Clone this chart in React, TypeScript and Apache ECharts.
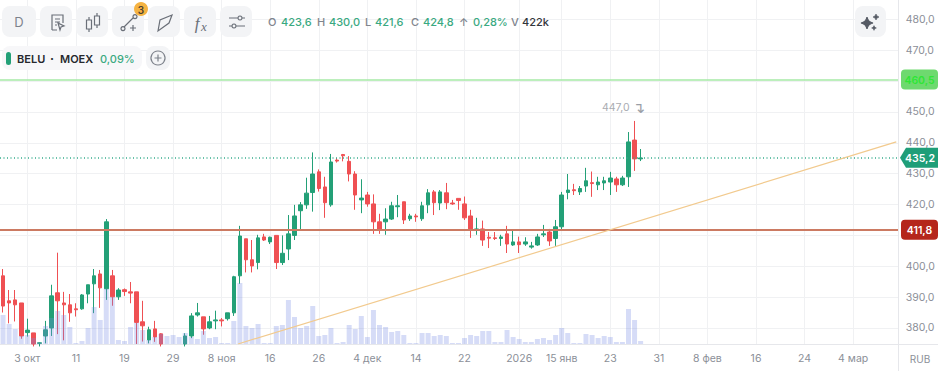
import React, { useEffect, useRef } from "react";
import * as echarts from "echarts";

const opens = [396.9,388.8,389.1,388.1,378.5,378.4,375,377.4,380,391.4,388.1,387.5,386.2,386.2,391,394.3,397.5,392.7,396.9,390.1,392.4,391.7,391.7,382,376.1,379.7,378.1,374,373.5,373.5,374.8,377.4,384.2,383.6,380,382.3,382.6,383,384.9,396.9,408.9,402.1,401.2,409.5,407.9,410,401.2,405.6,410,418,419.9,423.9,430.6,425.7,419.9,434.4,436.2,434,429.9,421.5,423.1,420.2,414.4,414.4,415.3,419.3,420.9,415.4,416.3,415.4,419.9,424.1,420.5,423.8,420.5,422,420.2,416.3,411.8,412.1,409.4,409.2,409,410.5,406.9,407.9,407.2,406.2,406.9,410.2,411.1,409,412.8,423.9,424.8,424.1,426,427.1,426.4,427,427.3,428.3,426.4,429,440.9,434.8];
const closes = [387.1,388.1,387.5,377.4,379.3,374.8,375.2,379.4,390.4,388.8,387.5,384.9,385.9,390.7,394,396.9,393,414.4,390.1,392.3,391.8,391.3,381.8,380.7,379.4,377.1,374.8,373.5,373.8,373,377.4,383.9,384.9,379.7,382,382.6,382.3,384.9,396.6,409.8,402.1,400.1,409.2,408.5,409.4,401.2,404.2,410.5,416.3,419.9,423.7,429.9,425.2,420.6,433.8,434.1,435.8,429.9,423.1,422.1,420.2,414.4,411.8,415.3,419.6,419.6,415,416.3,416,419.6,423.8,420.6,424.1,420.6,420.2,421.3,415.7,412.1,412.1,408.5,409.1,409,409.5,407.2,407.9,407,407.9,406.6,409.5,410.5,408.2,412.8,423.1,424.7,424.5,425.2,427.7,426.8,427.3,427.7,428.6,426.4,428.6,440.3,434.8,435.1];
const lows = [385,381.5,382.1,376.5,377.2,374,374,375,377.4,378,376,382,383.7,385.9,388,384.8,386.5,389.1,387.2,389.1,390.4,388,374.8,375.6,375,375.5,374,373,373,372.5,374,376.7,383.7,377.8,379.6,379.6,380.5,382.4,383.9,394.3,398,398,399,408.2,407.2,399.1,400.4,402,408.5,412,418.6,417.7,424.2,415.7,419.3,433.6,434,427.5,418.3,417.2,419.3,410.5,410.5,410.2,415,415.9,413.7,414.7,414.4,414.7,417.2,416.6,418.2,418.5,419.9,418.3,415,409.2,410.2,406.6,405.9,408.5,406.6,404.3,406.6,404.3,406.6,405.7,406.6,409.5,406.6,406.6,411.8,421.7,423.1,423.1,424.1,422.5,424.7,424.7,423.1,424.1,426,425.7,430.9,434.1];
const highs = [399.1,392.3,392.3,388.1,383,378.4,375.3,382.3,394,404.4,391.7,391,388,391,394,399.1,398.8,415.3,398.8,392.9,392.8,394.9,391.7,388.8,380.4,382.3,378.3,374.5,374.5,374.5,378.3,384.8,388.1,383.6,383.9,385.6,383.2,384.9,396.9,413.1,408.9,408.5,410.2,410.5,409.6,410,410,416.6,419.9,420.8,428.7,436.9,431.4,429,436.4,435.1,436.4,435.7,430.8,428.2,424.1,423.3,417,418.8,420.9,423.1,420.9,417,417,420.9,425,424.7,424.7,427,421.5,422,422.6,418.3,415.7,414.8,411.1,411.1,410.2,413.1,411.8,409.6,409.4,407.9,410.5,413.4,412.1,415,424.1,429.9,426.7,426,431.9,430.7,429,429,430.6,429,429.3,443.5,447.1,438];
const volumes = [290,200,150,80,90,60,15,180,260,330,290,170,10,30,160,370,240,550,470,40,30,170,210,140,40,70,100,80,90,70,110,70,50,130,60,70,10,10,230,610,180,160,200,10,10,180,190,440,270,160,180,380,80,90,160,10,20,190,150,280,70,340,190,170,120,130,90,10,10,110,110,80,90,80,10,10,60,90,80,130,130,20,20,140,70,50,20,20,50,60,40,90,160,110,10,10,100,90,60,80,70,20,20,350,240,30];

const BAR_SLOTS = 148;
const tickSlots = [4,12,20,28,36,44,52,60,68,76,85,92,100,108,116,124,132,140];
const tickLabels = ["3 окт","11","19","29","8 ноя","16","26","4 дек","14","22","2026","15 янв","23","31","8 фев","16","24","4 мар"];
const categories = Array.from({ length: BAR_SLOTS }, (_, i) => String(i));

const priceTicks = [380,390,400,410,420,430,440,450,460,470,480];
const priceLabelTicks = [380,390,400,420,430,440,450,470,480];
const PRICE_MIN = 374.8;
const PRICE_MAX = 486.3;
const VOLUME_AXIS_MAX = 3440;

const greenLevel = 460.5;
const brownLevel = 411.8;
const lastPrice = 435.2;
const peakPrice = 447;
const peakIndex = 104;
const trendX = [39.2, 147.6];
const trendY = [374.8, 440.3];

const ohlcLabels = [
  { t: "O", x: 268, c: "#80858e" }, { t: "423,6", x: 281, c: "#3aa981" },
  { t: "H", x: 317, c: "#80858e" }, { t: "430,0", x: 329, c: "#3aa981" },
  { t: "L", x: 365, c: "#80858e" }, { t: "421,6", x: 375, c: "#3aa981" },
  { t: "C", x: 411, c: "#80858e" }, { t: "424,8", x: 423, c: "#3aa981" },
  { t: "↑", x: 459, c: "#80858e" }, { t: "0,28%", x: 473, c: "#3aa981" },
  { t: "V", x: 511, c: "#80858e" }, { t: "422k", x: 522, c: "#33363c" },
];

const GREEN = "#23a077";
const RED = "#ef5053";
const FONT = "Inter";

const icons: Record<string, string> = {
  icDoc: "M2 16V1h11v8M5 5h5M5 8h5M5 11h2M2 16h5M8 9l6 3-3 1-1 3z",
  icCandle: "M4 4v3M4 16v3M1.5 7h5v9h-5zM12 0v3M12 12v3M9.5 3h5v9h-5z",
  icLine: "M3 13L12 4M14 0.6a2 2 0 1 1-.01 0zM2 12.6a2 2 0 1 1-.01 0zM9 14h6M12 11v6",
  icPoly: "M1 17L3 6L15 1L12 9z",
  icSlide: "M0 4h9M13 4h3M0 12h3M7 12h9M11 2a2 2 0 1 1-.01 0zM5 10a2 2 0 1 1-.01 0z",
  icSpark: "M0-6Q1-1 6 0Q1 1 0 6Q-1 1-6 0Q-1-1 0-6z",
  icPlus: "M7 0a7 7 0 1 1-.01 0zM7 3.5v7M3.5 7h7",
};
Object.entries(icons).forEach(([name, d]) => {
  echarts.graphic.registerShape(name, echarts.graphic.extendPath(d as any, {}) as any);
});

function txt(t: string, x: number, y: number, fill: string, size = 11, weight: any = 500, align = "left", extra: any = {}) {
  return { type: "text", x, y, z: 30, style: { text: t, fill, font: `${weight} ${size}px ${FONT}`, textAlign: align, textVerticalAlign: "middle", ...extra } };
}
function box(x: number, y: number, w: number, h: number, r: number, fill: string) {
  return { type: "rect", z: 20, shape: { x, y, width: w, height: h, r }, style: { fill } };
}
function ic(type: string, x: number, y: number, scale = 1, stroke = "#6a6f78", fill = "none") {
  return { type, x, y, scaleX: scale, scaleY: scale, z: 30, style: { fill, stroke, lineWidth: 1.2 } };
}

function overlay(chart: any) {
  const py = (v: number) => chart.convertToPixel({ yAxisIndex: 0 }, v);
  const gy = py(greenLevel), ly = py(lastPrice), by = py(brownLevel);
  const btnX = [2, 40, 76, 112, 148, 184, 220];
  const els: any[] = [];
  btnX.forEach((x, i) => els.push(box(x, 6, i === 0 ? 34 : 32, 31, 8, "#f3f4f6")));
  els.push(box(855, 6, 31, 31, 8, "#f3f4f6"));
  els.push(txt("D", 19, 22, "#7d828b", 13, 400, "center"));
  els.push(ic("icDoc", 50, 14));
  els.push(ic("icCandle", 85, 13));
  els.push(ic("icLine", 121, 14));
  els.push(ic("icPoly", 157, 14));
  els.push(txt("f", 197, 23, "#6a6f78", 16, "italic 400", "center", { font: "italic 400 17px 'Liberation Serif'" }));
  els.push(txt("x", 204, 26, "#6a6f78", 13, 400, "center", { font: "italic 400 13px 'Liberation Serif'" }));
  els.push(ic("icSlide", 229, 14));
  els.push({ type: "circle", z: 31, shape: { cx: 141, cy: 9, r: 7 }, style: { fill: "#f5b342" } });
  els.push({ ...txt("3", 141, 9.5, "#4a4030", 10, 600, "center"), z: 32 });
  ohlcLabels.forEach((l) => els.push(txt(l.t, l.x, 22, l.c, 11, 500)));

  els.push(box(2, 46, 140, 24, 8, "#f7f7f9"));
  els.push(box(146, 46, 24, 24, 8, "#f3f4f6"));
  els.push({ ...box(6, 52, 5, 13, 2.5, GREEN), z: 30 });
  els.push(txt("BELU", 17, 58.5, "#26282d", 11, 600));
  els.push(txt("·", 52, 58, "#26282d", 12, 700, "center"));
  els.push(txt("MOEX", 60, 58.5, "#26282d", 11, 600));
  els.push(txt("0,09%", 100, 58.5, "#3aa981", 11, 500));
  els.push(ic("icPlus", 151, 51, 1, "#7d828b"));

  els.push({ ...ic("icSpark", 867, 23, 1, "#565b65", "#565b65") });
  els.push({ ...ic("icSpark", 876, 17, 0.5, "#565b65", "#565b65") });
  els.push({ ...ic("icSpark", 874, 28, 0.4, "#565b65", "#565b65") });

  els.push({ type: "rect", z: 10, shape: { x: 898.5, y: 0, width: 3, height: 344 }, style: { fill: "#fff" } });
  els.push({ type: "line", z: 11, shape: { x1: 898.5, y1: 0, x2: 898.5, y2: 371 }, style: { stroke: "#e6e7eb", lineWidth: 1 } });
  els.push({ type: "line", z: 11, shape: { x1: 898, y1: 344.5, x2: 938, y2: 344.5 }, style: { stroke: "#e6e7eb", lineWidth: 1 } });

  els.push(box(901, gy - 10, 37, 20, 4, "#6ed96f"));
  els.push(txt("460,5", 919.5, gy + 0.5, "#2fe636", 10.5, 600, "center"));
  els.push({ type: "polygon", z: 20, shape: { points: [[900, ly], [906, ly - 10], [938, ly - 10], [938, ly + 10], [906, ly + 10]] }, style: { fill: "#1f9e78" } });
  els.push(txt("435,2", 920, ly + 0.5, "#ffffff", 10.5, 600, "center"));
  els.push(box(901, by - 10, 37, 20, 4, "#b5261b"));
  els.push(txt("411,8", 919.5, by + 0.5, "#ffffff", 10.5, 600, "center"));
  els.push(txt("RUB", 920, 359, "#8b8f98", 10, 400, "center"));
  return els;
}

export default function App() {
  const ref = useRef<HTMLDivElement>(null);
  useEffect(() => {
    document.body.style.margin = "0";
    document.body.style.overflow = "hidden";
    const chart = echarts.init(ref.current!, undefined, { renderer: "svg" });
    const option: any = {
      animation: false,
      backgroundColor: "#ffffff",
      textStyle: { fontFamily: FONT },
      grid: { left: -2.35, top: 0, width: 902.8, height: 344 },
      xAxis: [
        {
          type: "category",
          data: categories,
          boundaryGap: true,
          axisLine: { show: true, lineStyle: { color: "#e6e7eb" } },
          axisTick: { show: false, alignWithLabel: true, interval: (i: number) => tickSlots.includes(i) },
          axisLabel: {
            interval: (i: number) => tickSlots.includes(i),
            formatter: (_: string, i: number) => tickLabels[tickSlots.indexOf(i)] ?? "",
            color: "#8b8f98",
            fontSize: 10.5,
            fontFamily: FONT,
            margin: 9,
            hideOverlap: false,
          },
          splitLine: {
            show: true,
            alignWithLabel: true,
            interval: (i: number) => tickSlots.includes(i),
            lineStyle: { color: "#f0f1f3" },
          },
        },
        { type: "value", min: 0, max: BAR_SLOTS, show: false },
      ],
      yAxis: [
        {
          type: "value",
          position: "right",
          min: PRICE_MIN,
          max: PRICE_MAX,
          axisLine: { show: false },
          axisTick: { show: false, customValues: priceTicks },
          axisLabel: {
            customValues: priceLabelTicks,
            formatter: (v: number) => v.toFixed(1).replace(".", ","),
            color: "#8b8f98",
            fontSize: 10.5,
            fontFamily: FONT,
            margin: 7,
          },
          splitLine: { show: true, lineStyle: { color: "#f0f1f3" } },
        },
        { type: "value", min: 0, max: VOLUME_AXIS_MAX, show: false },
      ],
      series: [
        {
          type: "candlestick",
          z: 2,
          barWidth: 4,
          data: opens.map((o, i) => [o, closes[i], lows[i], highs[i]]),
          itemStyle: { color: GREEN, color0: RED, borderColor: GREEN, borderColor0: RED, borderWidth: 1 },
          markPoint: {
            symbol: "circle",
            symbolSize: 0,
            data: [{ coord: [peakIndex, peakPrice] }],
            label: {
              show: true,
              position: "top",
              offset: [-11, -1],
              formatter: () => `{a|${peakPrice.toFixed(1).replace(".", ",")}}{b|↴}`,
              rich: {
                a: { color: "#a9acb2", fontSize: 10.5, fontFamily: FONT },
                b: { color: "#9a9ea6", fontSize: 15, fontFamily: "DejaVu Sans", padding: [0, 0, 0, 3] },
              },
            },
          },
          markLine: {
            silent: true,
            symbol: "none",
            z: 5,
            label: { show: false },
            data: [
              { yAxis: greenLevel, lineStyle: { color: "#a6eaa6", width: 1.5, type: "solid" } },
              { yAxis: brownLevel, lineStyle: { color: "#cc7a62", width: 2, type: "solid" } },
              { yAxis: lastPrice, lineStyle: { color: "#36ad8c", width: 1.5, type: [1, 2.5] } },
            ],
          },
        },
        {
          type: "bar",
          z: 3,
          yAxisIndex: 1,
          barWidth: 5,
          data: volumes,
          itemStyle: { color: "rgba(120,140,230,0.3)" },
        },
        { type: "line", z: 5, xAxisIndex: 1, symbol: "none", data: trendX.map((x, i) => [x, trendY[i]]), lineStyle: { color: "#f2ca8e", width: 1.2 } },
      ],
    };
    chart.setOption(option);
    chart.setOption({ graphic: { elements: overlay(chart) } });
    return () => chart.dispose();
  }, []);
  return <div ref={ref} style={{ position: "absolute", left: 0, top: 0, width: 938, height: 371 }} />;
}
